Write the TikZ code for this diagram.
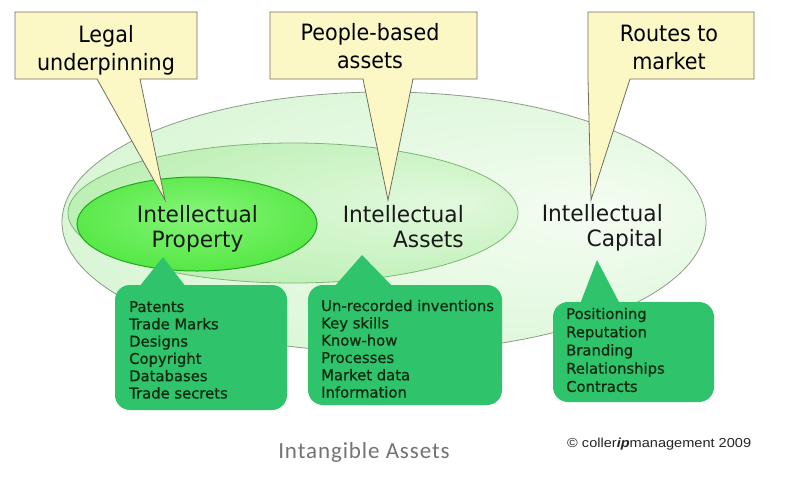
\documentclass[tikz,border=0pt]{standalone}
\usepackage{fontspec}
\setmainfont{DejaVu Sans}[FakeStretch=0.92]
\newfontfamily\ellfont{DejaVu Sans}[FakeStretch=0.965]
\newfontfamily\listfont{DejaVu Sans}[FakeBold=0.8]
\newfontfamily\carlfont{Carlito}[LetterSpace=4]
\newfontfamily\arialfont{Liberation Sans}[FakeStretch=1.12]
\definecolor{oIn}{HTML}{F4FDF2}
\definecolor{oOut}{HTML}{CBF2C6}
\definecolor{oLine}{HTML}{8C9C86}
\definecolor{mIn}{HTML}{E2F9DD}
\definecolor{mOut}{HTML}{A6EA9C}
\definecolor{mLine}{HTML}{7FB577}
\definecolor{iIn}{HTML}{86F578}
\definecolor{iOut}{HTML}{2EDD1C}
\definecolor{iLine}{HTML}{22A81C}
\definecolor{callfill}{HTML}{FCF8C6}
\definecolor{callline}{HTML}{6F6F60}
\definecolor{gbox}{HTML}{2FC36C}
\definecolor{gtext}{HTML}{0B2A12}
\pgfdeclareradialshading{outerS}{\pgfpoint{18bp}{2bp}}{color(0bp)=(oIn); color(50bp)=(oOut)}
\pgfdeclareradialshading{midS}{\pgfpoint{18bp}{4bp}}{color(0bp)=(mIn); color(50bp)=(mOut)}
\pgfdeclareradialshading{innerS}{\pgfpoint{0bp}{6bp}}{color(0bp)=(iIn); color(50bp)=(iOut)}
\begin{document}
\begin{tikzpicture}[x=1pt,y=-1pt,
  callout/.style={fill=callfill,draw=callline,line width=0.8pt,line join=miter},
  calltext/.style={font=\fontsize{22.5}{28.5}\selectfont,align=center,text=black,inner sep=0pt},
  elltext/.style={font=\ellfont\fontsize{22.5}{25}\selectfont,text=black!90,inner sep=0pt},
  greenbox/.style={fill=gbox,rounded corners=15pt},
  listtext/.style={font=\listfont\fontsize{14.8}{17.3}\selectfont,align=left,text=gtext,inner sep=0pt}]
\useasboundingbox (0,0) rectangle (800,477);
\fill[white] (0,0) rectangle (800,477);

% ellipses
\shade[shading=outerS,draw=oLine,line width=0.8pt] (384,222) ellipse [x radius=322pt, y radius=130pt];
\shade[shading=midS,draw=mLine,line width=0.8pt] (293,213) ellipse [x radius=225pt, y radius=70pt];
\shade[shading=innerS,draw=iLine,line width=1pt] (197,224) ellipse [x radius=120pt, y radius=47pt];

\node[elltext,align=center,anchor=north] (ip) at (197.5,205) {Intellectual\\Property};
\node[elltext,align=right,anchor=north east] (ia) at (464,205) {Intellectual\\Assets};
\node[elltext,align=right,anchor=north east] (ic) at (663,204) {Intellectual\\Capital};

% yellow callouts
\coordinate (t1) at (165,200);
\coordinate (t2) at (388,200);
\coordinate (t3) at (591,200);
\draw[callout] (15,12) -- (197,12) -- (197,79) -- (140,79) -- (t1) -- (97,79) -- (15,79) -- cycle;
\draw[callout] (270,12) -- (477,12) -- (477,79) -- (413,79) -- (t2) -- (363,79) -- (270,79) -- cycle;
\draw[callout] (588,12) -- (754,12) -- (754,79) -- (630,79) -- (t3) -- (588,79) -- cycle;
\node[calltext,anchor=north] (legal) at (106,25) {Legal\\underpinning};
\node[calltext,anchor=north] (people) at (370,23) {People-based\\assets};
\node[calltext,anchor=north] (routes) at (669,24.6) {Routes to\\market};

% green boxes
\fill[greenbox] (115,285) rectangle (287,410);
\fill[gbox] (139,287) -- (163,257) -- (186,287) -- cycle;
\fill[greenbox] (308,285) rectangle (502,405);
\fill[gbox] (334,287) -- (362,255) -- (393,287) -- cycle;
\fill[greenbox] (553,302) rectangle (714,402);
\fill[gbox] (580,304) -- (597,260) -- (620,304) -- cycle;

\node[listtext,anchor=north west] (l1) at (129,301) {Patents\\Trade Marks\\Designs\\Copyright\\Databases\\Trade secrets};
\node[listtext,anchor=north west] (l2) at (321,299.6) {Un-recorded inventions\\Key skills\\Know-how\\Processes\\Market data\\Information};
\node[listtext,anchor=north west,font=\listfont\fontsize{14.8}{18.2}\selectfont] (l3) at (566,307.6) {Positioning\\Reputation\\Branding\\Relationships\\Contracts};

% bottom texts
\node[font=\carlfont\fontsize{23}{26}\selectfont,text=black!55,anchor=base,inner sep=0pt] (title) at (364,458) {Intangible Assets};
\node[font=\arialfont\fontsize{13}{15}\selectfont,text=black!85,anchor=base west,inner sep=0pt] (copy) at (567,447) {\textcopyright{} coller\textbf{\textit{ip}}management 2009};
\end{tikzpicture}
\end{document}
